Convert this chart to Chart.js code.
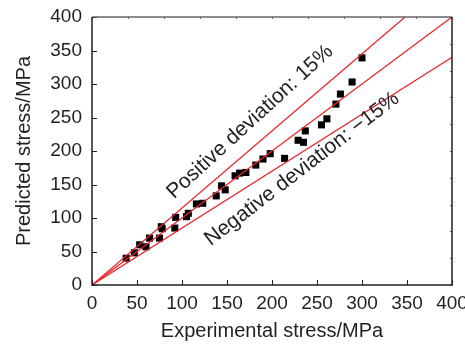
<!DOCTYPE html>
<html>
<head>
<meta charset="utf-8">
<script src="https://cdn.jsdelivr.net/npm/chart.js@4.4.1/dist/chart.umd.min.js"></script>
<style>
  html, body { margin: 0; padding: 0; background: #fff; }
</style>
</head>
<body>
<canvas id="stressChart" width="465" height="345"></canvas>
<script>
const experimental = [38, 47, 53, 60, 64, 75, 77, 78, 92, 93, 105, 107, 116, 123, 138, 144, 148,
  159, 164, 171, 182, 190, 198, 214, 229, 235, 237, 255, 261, 271, 276, 289, 300];
const predicted = [40, 48, 60, 57, 70, 70, 87, 84, 85, 101, 102, 107, 121, 122, 133, 148, 142,
  163, 167, 168, 179, 188, 196, 189, 216, 213, 230, 239, 248, 270, 285, 303, 339];
const axisTicks = [0, 50, 100, 150, 200, 250, 300, 350, 400];
const ratios = [1.15, 1, 0.85];
const labels = ["Positive deviation: 15%", "Negative deviation: \u221215%"];

const textColor = "#231f20";
const fontName = "'Liberation Sans', Arial, sans-serif";

let points = experimental.map((v, i) => ({ x: v, y: predicted[i] }));

let lineSets = ratios.map((r) => ({
  data: [{ x: 0, y: 0 }, { x: 400, y: 400 * r }],
  showLine: true,
  borderColor: "#e8262b",
  borderWidth: 1.3,
  pointRadius: 0,
  order: 0,
}));

function rotatedText(ctx, txt, x, y, deg) {
  ctx.save();
  ctx.fillStyle = textColor;
  ctx.font = "21px " + fontName;
  ctx.textAlign = "center";
  ctx.textBaseline = "middle";
  ctx.translate(x, y);
  ctx.rotate(-deg * Math.PI / 180);
  ctx.fillText(txt, 0, 0);
  ctx.restore();
}

// box frame + inward ticks
const frame = {
  id: "frame",
  afterDatasetsDraw(chart) {
    const { ctx, chartArea: a, scales } = chart;
    ctx.save();
    ctx.lineWidth = 1;
    ctx.strokeStyle = "#231f20";
    axisTicks.forEach((v) => {
      let px = Math.round(scales.x.getPixelForValue(v)) + 0.5;
      let py = Math.round(scales.y.getPixelForValue(v)) + 0.5;
      ctx.beginPath();
      ctx.moveTo(px, a.bottom);
      ctx.lineTo(px, a.bottom - 5);
      ctx.moveTo(a.left, py);
      ctx.lineTo(a.left + 5, py);
      ctx.stroke();
    });
    // small ticks on top and right edge
    ctx.strokeStyle = "#666";
    for (let v = 0; v <= 400; v += 40) {
      let px = Math.round(scales.x.getPixelForValue(v)) + 0.5;
      let py = Math.round(scales.y.getPixelForValue(v)) + 0.5;
      ctx.beginPath();
      ctx.moveTo(px, a.top);
      ctx.lineTo(px, a.top + 2);
      ctx.moveTo(a.right, py);
      ctx.lineTo(a.right - 2, py);
      ctx.stroke();
    }
    ctx.lineWidth = 1.5;
    ctx.strokeStyle = "#666";
    ctx.beginPath();
    ctx.moveTo(a.left, a.top);
    ctx.lineTo(a.right, a.top);
    ctx.stroke();
    ctx.strokeStyle = "#231f20";
    ctx.beginPath();
    ctx.moveTo(a.right, a.top);
    ctx.lineTo(a.right, a.bottom);
    ctx.lineTo(a.left, a.bottom);
    ctx.lineTo(a.left, a.top);
    ctx.stroke();
    ctx.restore();
  },
  afterDraw(chart) {
    rotatedText(chart.ctx, labels[0], 250, 122, 42.5);
    rotatedText(chart.ctx, labels[1], 302, 169, 37.5);
  },
};

let ctx = document.getElementById("stressChart").getContext("2d");
new Chart(ctx, {
  type: "scatter",
  data: {
    datasets: [
      {
        data: points,
        pointStyle: "rect",
        pointRadius: 5,
        pointHoverRadius: 5,
        backgroundColor: "#000",
        borderWidth: 0,
        order: 1,
      },
      ...lineSets,
    ],
  },
  options: {
    responsive: false,
    animation: false,
    layout: { autoPadding: false, padding: { top: 17, right: 13, left: 0, bottom: 0 } },
    plugins: { legend: { display: false }, tooltip: { enabled: false } },
    scales: {
      x: {
        type: "linear",
        min: 0,
        max: 400,
        afterBuildTicks: (s) => { s.ticks = axisTicks.map((v) => ({ value: v })); },
        afterFit: (s) => { s.height = 60; s.paddingLeft = 0; s.paddingRight = 0; },
        grid: { display: false, drawTicks: false },
        border: { display: false },
        ticks: { color: textColor, padding: 7, maxRotation: 0, font: { family: fontName, size: 19 } },
        title: {
          display: true,
          text: "Experimental stress/MPa",
          color: textColor,
          padding: { top: 0, bottom: 2 },
          font: { family: fontName, size: 20 },
        },
      },
      y: {
        type: "linear",
        min: 0,
        max: 400,
        afterBuildTicks: (s) => { s.ticks = axisTicks.map((v) => ({ value: v })); },
        afterFit: (s) => { s.width = 92; s.paddingTop = 0; s.paddingBottom = 0; },
        grid: { display: false, drawTicks: false },
        border: { display: false },
        ticks: { color: textColor, padding: 10, font: { family: fontName, size: 19 } },
        title: {
          display: true,
          text: "Predicted stress/MPa",
          color: textColor,
          padding: { top: 12, bottom: 0 },
          font: { family: fontName, size: 20 },
        },
      },
    },
  },
  plugins: [frame],
});
</script>
</body>
</html>
